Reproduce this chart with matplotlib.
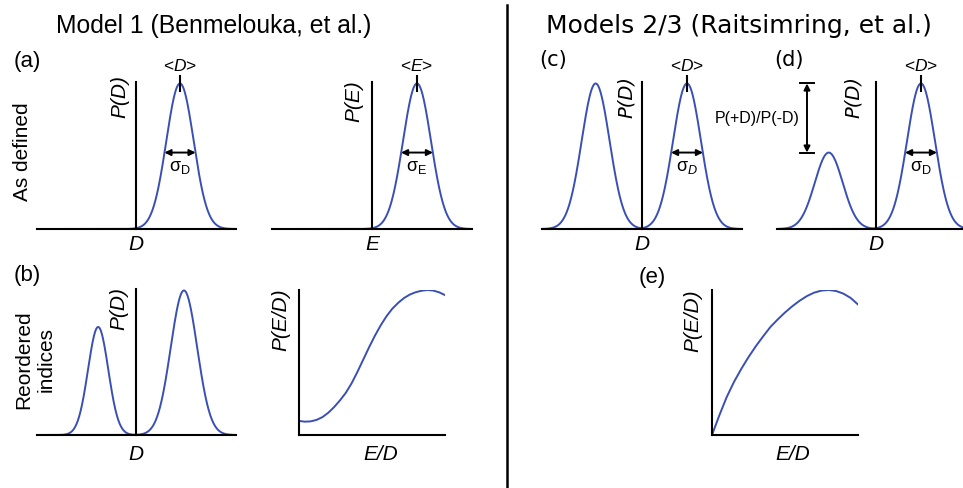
import numpy as np
import matplotlib.pyplot as plt
from matplotlib.lines import Line2D

plt.rcParams['font.family'] = ['Liberation Sans', 'DejaVu Sans']
plt.rcParams['mathtext.fontset'] = 'custom'
plt.rcParams['mathtext.rm'] = 'Liberation Sans'
plt.rcParams['mathtext.it'] = 'Liberation Sans:italic'

# Gaussian peaks (centre in units of <D>, sigma, height as fraction of axis)
centres_a1, sigmas_a1, heights_a1 = [1.0], [0.31], [0.99]
centres_a2, sigmas_a2, heights_a2 = [1.0], [0.31], [0.99]
centres_b1, sigmas_b1, heights_b1 = [-0.86, 1.09], [0.23, 0.30], [0.74, 0.99]
centres_c, sigmas_c, heights_c = [-1.03, 1.0], [0.31, 0.31], [0.99, 0.99]
centres_d, sigmas_d, heights_d = [-1.05, 1.0], [0.31, 0.31], [0.52, 0.99]

# P(E/D) curves (x, y as fractions of the axes)
ed_b_x = [0.0, 0.04, 0.08, 0.12, 0.16, 0.20, 0.24, 0.28, 0.32, 0.36, 0.40,
          0.44, 0.48, 0.52, 0.56, 0.60, 0.64, 0.68, 0.72, 0.76, 0.80, 0.84,
          0.88, 0.92, 0.96, 1.0]
ed_b_y = [0.097, 0.092, 0.094, 0.104, 0.123, 0.153, 0.192, 0.238, 0.29, 0.356, 0.435,
          0.52, 0.605, 0.685, 0.757, 0.82, 0.872, 0.912, 0.945, 0.969, 0.985, 0.995,
          1.0, 0.996, 0.984, 0.965]
ed_e_x = [0.0, 0.05, 0.10, 0.15, 0.20, 0.25, 0.30, 0.35, 0.40, 0.45, 0.50,
          0.55, 0.60, 0.65, 0.70, 0.75, 0.80, 0.85, 0.90, 0.95, 1.0]
ed_e_y = [0.0, 0.135, 0.26, 0.365, 0.455, 0.537, 0.612, 0.68, 0.745, 0.797, 0.845,
          0.888, 0.926, 0.958, 0.982, 0.996, 1.0, 0.993, 0.975, 0.945, 0.90]

W, H = 963, 488
BLUE = '#3a4fb4'
fig = plt.figure(figsize=(W / 100, H / 100), dpi=100)


def panel(x0, x1, axis_x, top, base, unit):
    ax = fig.add_axes([x0 / W, 1 - base / H, (x1 - x0) / W, (base - top) / H])
    ax.set_xlim((x0 - axis_x) / unit, (x1 - axis_x) / unit)
    ax.set_ylim(0, 1)
    for s in ['top', 'right']:
        ax.spines[s].set_visible(False)
    ax.spines['left'].set_position(('data', 0))
    ax.spines['left'].set_linewidth(1.5)
    ax.spines['bottom'].set_linewidth(1.5)
    ax.set_xticks([])
    ax.set_yticks([])
    ax.patch.set_alpha(0)
    return ax


def gauss_panel(ax, centres, sigmas, heights):
    x = np.linspace(*ax.get_xlim(), 600)
    for c, s, h in zip(centres, sigmas, heights):
        ax.plot(x, h * np.exp(-0.5 * ((x - c) / s) ** 2), color=BLUE, lw=1.4)


def mark_peak(ax, c, s, label, sig, mfont='custom'):
    ax.plot([c, c], [0.94, 1.04], color='k', lw=1.5, clip_on=False)
    ax.text(c, 1.11, label, ha='center', va='center', fontsize=12.5,
            clip_on=False, math_fontfamily=mfont)
    hw = s * np.sqrt(2 * np.log(1 / 0.52))
    ax.annotate('', xy=(c + hw, 0.52), xytext=(c - hw, 0.52),
                arrowprops=dict(arrowstyle='<|-|>', color='k', lw=1.4,
                                shrinkA=0, shrinkB=0, mutation_scale=9))
    ax.text(c, 0.42, sig, ha='center', va='center', fontsize=13, math_fontfamily=mfont)


def ftext(x, y, s, **kw):
    kw.setdefault('ha', 'center')
    kw.setdefault('va', 'center')
    fig.text(x / W, 1 - y / H, s, **kw)


# (a) left
ax = panel(37, 236, 136, 82, 229, 44)
gauss_panel(ax, centres_a1, sigmas_a1, heights_a1)
mark_peak(ax, centres_a1[0], sigmas_a1[0], r'<$\mathit{D}$>', r'$\mathrm{\sigma_D}$')
# (a) right
ax = panel(272, 472, 372, 82, 229, 45)
gauss_panel(ax, centres_a2, sigmas_a2, heights_a2)
mark_peak(ax, centres_a2[0], sigmas_a2[0], r'<$\mathit{E}$>', r'$\mathrm{\sigma_E}$')
# (b) left
ax = panel(37, 236, 136, 289, 435, 44)
gauss_panel(ax, centres_b1, sigmas_b1, heights_b1)
# (b) right
ax = panel(299, 445, 299, 290, 435, 146)
ax.plot(ed_b_x, ed_b_y, color=BLUE, lw=1.4)
# (c)
ax = panel(542, 742, 642, 82, 229, 45)
gauss_panel(ax, centres_c, sigmas_c, heights_c)
mark_peak(ax, centres_c[1], sigmas_c[1], r'<$\mathit{D}$>', r'$\mathrm{\sigma}_{D}$')
# (d)
ax = panel(777, 963, 876, 82, 229, 45)
gauss_panel(ax, centres_d, sigmas_d, heights_d)
mark_peak(ax, centres_d[1], sigmas_d[1], r'<$\mathit{D}$>', r'$\mathrm{\sigma_D}$')
bx = -69 / 45
ax.annotate('', xy=(bx, heights_d[1]), xytext=(bx, heights_d[0]),
            arrowprops=dict(arrowstyle='<|-|>', color='k', lw=1.4,
                            shrinkA=0, shrinkB=0, mutation_scale=9))
for yy in [heights_d[0], heights_d[1]]:
    ax.plot([bx - 0.15, bx + 0.15], [yy, yy], color='k', lw=1.4)
# (e)
ax = panel(712, 858, 712, 290, 435, 146)
ax.plot(ed_e_x, ed_e_y, color=BLUE, lw=1.4)

# divider
fig.add_artist(Line2D([507 / W, 507 / W], [0, 1 - 5 / H], color='k', lw=1.8))

# titles and labels
ftext(214, 26, 'Model 1 (Benmelouka, et al.)', fontsize=17.8)
ftext(739, 26, 'Models 2/3 (Raitsimring, et al.)', fontsize=18, family='DejaVu Sans')
ftext(27, 62, '(a)', fontsize=16)
ftext(27, 276, '(b)', fontsize=16)
ftext(553, 60, '(c)', fontsize=15, family='DejaVu Sans')
ftext(789, 60, '(d)', fontsize=15, family='DejaVu Sans')
ftext(652, 277, '(e)', fontsize=16)
ftext(23, 152, 'As defined', fontsize=15, rotation=90)
ftext(35, 360, 'Reordered\nindices', fontsize=15, rotation=90, linespacing=1.2)
ftext(800, 118, 'P(+D)/P(-D)', fontsize=11.5, ha='right')

ylab = dict(fontsize=15, rotation=90, style='italic')
ftext(120, 97, 'P(D)', **ylab)
ftext(354, 101, 'P(E)', **ylab)
ftext(119, 309, 'P(D)', **ylab)
ftext(281, 320, 'P(E/D)', **ylab)
ftext(693, 321, 'P(E/D)', **ylab)
ftext(626, 97, 'P(D)', family='DejaVu Sans', **dict(ylab, fontsize=14))
ftext(853, 97, 'P(D)', family='DejaVu Sans', **dict(ylab, fontsize=14))

xlab = dict(fontsize=15, style='italic')
ftext(136, 245, 'D', **xlab)
ftext(372, 245, 'E', **xlab)
ftext(642, 245, 'D', **xlab)
ftext(876, 245, 'D', **xlab)
ftext(136, 455, 'D', **xlab)
ftext(381, 455, 'E/D', **xlab)
ftext(793, 455, 'E/D', **xlab)

fig.savefig('out.png', dpi=100)
